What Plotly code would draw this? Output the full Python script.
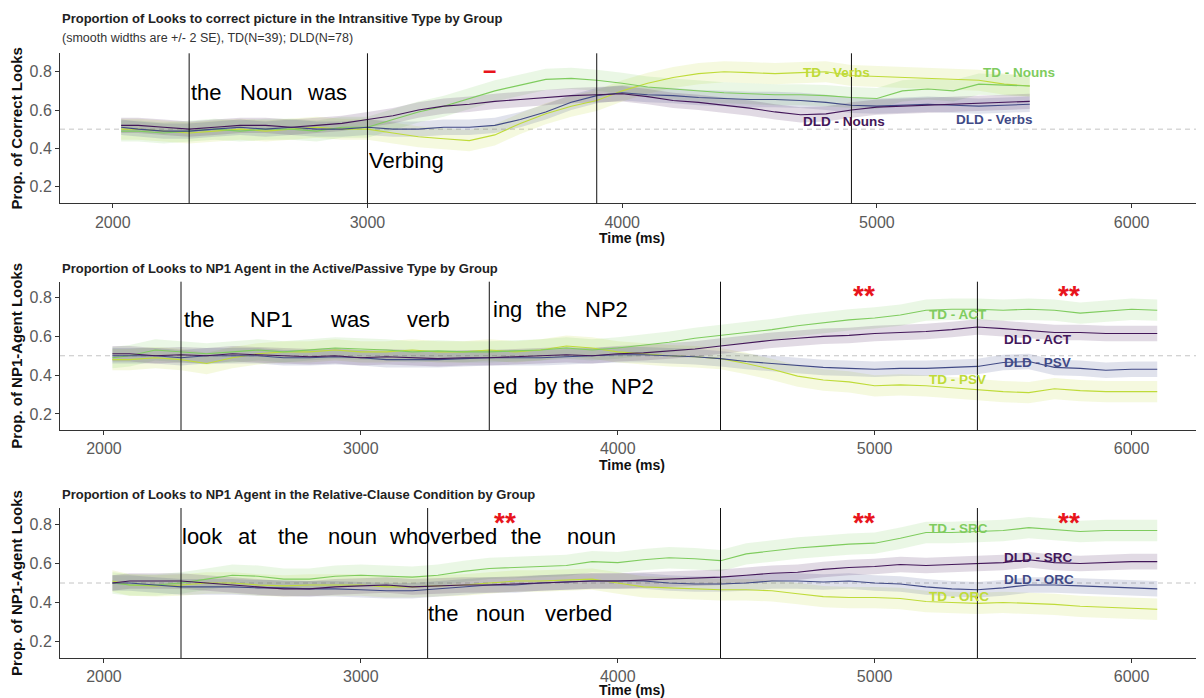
import plotly.graph_objects as go

# ---------------- data ----------------
TIME_TOP = [2033] + list(range(2100, 5601, 100))
TIME_LONG = [2033] + list(range(2100, 6101, 100))

# Panel 1: Intransitive
TD_NOUNS = [0.49, 0.49, 0.48, 0.49, 0.50, 0.49, 0.50, 0.50, 0.49, 0.51, 0.51, 0.55, 0.59, 0.62, 0.66,
            0.70, 0.73, 0.76, 0.765, 0.755, 0.74, 0.72, 0.71, 0.70, 0.69, 0.685, 0.68, 0.68, 0.675,
            0.665, 0.66, 0.70, 0.71, 0.70, 0.735, 0.73, 0.725]
TD_VERBS = [0.50, 0.50, 0.49, 0.48, 0.49, 0.50, 0.49, 0.50, 0.51, 0.50, 0.50, 0.48, 0.46, 0.45, 0.44,
            0.47, 0.53, 0.58, 0.62, 0.65, 0.70, 0.74, 0.77, 0.79, 0.80, 0.795, 0.79, 0.795, 0.80,
            0.78, 0.775, 0.77, 0.765, 0.76, 0.755, 0.735, 0.725]
DLD_NOUNS = [0.52, 0.52, 0.51, 0.50, 0.51, 0.52, 0.52, 0.51, 0.52, 0.53, 0.55, 0.57, 0.60, 0.62, 0.63,
             0.645, 0.655, 0.665, 0.675, 0.68, 0.685, 0.67, 0.65, 0.64, 0.625, 0.61, 0.59, 0.575, 0.58,
             0.60, 0.615, 0.62, 0.625, 0.63, 0.635, 0.64, 0.645]
DLD_VERBS = [0.51, 0.50, 0.49, 0.49, 0.50, 0.51, 0.50, 0.51, 0.50, 0.50, 0.51, 0.50, 0.50, 0.51, 0.51,
             0.52, 0.55, 0.59, 0.64, 0.675, 0.69, 0.68, 0.675, 0.665, 0.66, 0.655, 0.655, 0.65, 0.64,
             0.625, 0.62, 0.625, 0.63, 0.625, 0.62, 0.625, 0.63]

# Panel 2: Active / Passive
TD_ACT = [0.49, 0.50, 0.53, 0.52, 0.51, 0.52, 0.53, 0.52, 0.53, 0.54, 0.535, 0.53, 0.52, 0.525, 0.52,
          0.52, 0.525, 0.53, 0.54, 0.53, 0.54, 0.555, 0.57, 0.59, 0.605, 0.62, 0.635, 0.655, 0.67,
          0.685, 0.695, 0.71, 0.735, 0.74, 0.74, 0.735, 0.74, 0.735, 0.72, 0.73, 0.74, 0.735]
TD_PSV = [0.48, 0.48, 0.49, 0.48, 0.46, 0.49, 0.51, 0.52, 0.52, 0.53, 0.52, 0.52, 0.53, 0.52, 0.52,
          0.53, 0.52, 0.53, 0.55, 0.54, 0.52, 0.51, 0.50, 0.495, 0.485, 0.46, 0.43, 0.395, 0.375,
          0.365, 0.345, 0.35, 0.345, 0.335, 0.325, 0.315, 0.31, 0.33, 0.32, 0.315, 0.315, 0.315]
DLD_ACT = [0.51, 0.51, 0.50, 0.505, 0.50, 0.51, 0.505, 0.50, 0.495, 0.50, 0.49, 0.495, 0.49, 0.485, 0.49,
           0.49, 0.495, 0.50, 0.505, 0.50, 0.51, 0.515, 0.525, 0.535, 0.55, 0.565, 0.58, 0.59, 0.60,
           0.605, 0.615, 0.62, 0.625, 0.635, 0.648, 0.64, 0.63, 0.62, 0.62, 0.615, 0.615, 0.615]
DLD_PSV = [0.50, 0.50, 0.50, 0.49, 0.50, 0.50, 0.50, 0.49, 0.49, 0.495, 0.49, 0.48, 0.48, 0.48, 0.485,
           0.49, 0.49, 0.49, 0.495, 0.50, 0.505, 0.505, 0.50, 0.495, 0.485, 0.47, 0.46, 0.45, 0.44,
           0.435, 0.43, 0.435, 0.435, 0.44, 0.445, 0.465, 0.47, 0.44, 0.435, 0.425, 0.43, 0.43]

# Panel 3: Relative clauses
TD_SRC = [0.50, 0.49, 0.49, 0.50, 0.52, 0.54, 0.535, 0.52, 0.52, 0.535, 0.54, 0.535, 0.53, 0.54, 0.56,
          0.575, 0.58, 0.585, 0.59, 0.61, 0.605, 0.62, 0.63, 0.625, 0.615, 0.65, 0.665, 0.68, 0.69,
          0.70, 0.705, 0.73, 0.76, 0.76, 0.765, 0.77, 0.785, 0.775, 0.765, 0.77, 0.77, 0.77]
TD_ORC = [0.51, 0.49, 0.485, 0.49, 0.50, 0.50, 0.49, 0.485, 0.49, 0.49, 0.49, 0.48, 0.48, 0.485, 0.49,
          0.50, 0.51, 0.51, 0.515, 0.52, 0.50, 0.48, 0.475, 0.47, 0.465, 0.465, 0.46, 0.445, 0.43,
          0.425, 0.425, 0.42, 0.405, 0.40, 0.395, 0.40, 0.395, 0.39, 0.38, 0.375, 0.37, 0.365]
DLD_SRC = [0.50, 0.51, 0.51, 0.51, 0.50, 0.49, 0.48, 0.47, 0.47, 0.48, 0.485, 0.49, 0.48, 0.485, 0.49,
           0.49, 0.495, 0.50, 0.505, 0.51, 0.51, 0.515, 0.52, 0.525, 0.53, 0.54, 0.55, 0.555, 0.57,
           0.58, 0.585, 0.595, 0.59, 0.595, 0.60, 0.605, 0.62, 0.605, 0.60, 0.605, 0.61, 0.61]
DLD_ORC = [0.50, 0.50, 0.49, 0.48, 0.48, 0.48, 0.475, 0.475, 0.47, 0.47, 0.465, 0.46, 0.46, 0.47, 0.48,
           0.49, 0.49, 0.50, 0.505, 0.51, 0.51, 0.51, 0.50, 0.495, 0.495, 0.50, 0.51, 0.51, 0.505,
           0.51, 0.50, 0.495, 0.48, 0.47, 0.465, 0.475, 0.49, 0.49, 0.485, 0.48, 0.475, 0.47]

# +/- 2 SE half widths
TD_HALF = 0.055
DLD_HALF = 0.04

X_TICKS = [2000, 3000, 4000, 5000, 6000]
Y_TICKS = [0.2, 0.4, 0.6, 0.8]

VLINES_TOP = [2300, 3000, 3900, 4900]
VLINES_AP = [2300, 3500, 4400, 5400]
VLINES_RC = [2300, 3260, 4400, 5400]

TITLES = [
    "Proportion of Looks to correct picture in the Intransitive Type by Group",
    "Proportion of Looks to NP1 Agent in the Active/Passive Type by Group",
    "Proportion of Looks to NP1 Agent in the Relative-Clause Condition by Group",
]
SUBTITLE = "(smooth widths are +/- 2 SE), TD(N=39); DLD(N=78)"
Y_TITLES = ["Prop. of Correct Looks", "Prop. of NP1-Agent Looks", "Prop. of NP1-Agent Looks"]

# ---------------- style ----------------
C_DLD1 = "#43175a"   # dark purple
C_DLD2 = "#414a86"   # blue purple
C_TD1 = "#7fcc5e"    # green
C_TD2 = "#bfdb38"    # yellow green


def rgba(hex_color, a):
    h = hex_color.lstrip("#")
    r, g, b = int(h[0:2], 16), int(h[2:4], 16), int(h[4:6], 16)
    return f"rgba({r},{g},{b},{a})"


FONT = "Liberation Sans, Arial, sans-serif"

panels = [
    dict(time=TIME_TOP, vlines=VLINES_TOP, series=[
        ("TD - Verbs", TD_VERBS, C_TD2, TD_HALF),
        ("TD - Nouns", TD_NOUNS, C_TD1, TD_HALF),
        ("DLD - Verbs", DLD_VERBS, C_DLD2, DLD_HALF),
        ("DLD - Nouns", DLD_NOUNS, C_DLD1, DLD_HALF),
    ]),
    dict(time=TIME_LONG, vlines=VLINES_AP, series=[
        ("TD - PSV", TD_PSV, C_TD2, TD_HALF),
        ("TD - ACT", TD_ACT, C_TD1, TD_HALF),
        ("DLD - PSV", DLD_PSV, C_DLD2, DLD_HALF),
        ("DLD - ACT", DLD_ACT, C_DLD1, DLD_HALF),
    ]),
    dict(time=TIME_LONG, vlines=VLINES_RC, series=[
        ("TD - ORC", TD_ORC, C_TD2, TD_HALF),
        ("TD - SRC", TD_SRC, C_TD1, TD_HALF),
        ("DLD - ORC", DLD_ORC, C_DLD2, DLD_HALF),
        ("DLD - SRC", DLD_SRC, C_DLD1, DLD_HALF),
    ]),
]

# the page body has an 8px default margin: size the figure to fill the rest of the window
PAGE_W, PAGE_H, OFF = 1204, 698, 8
W, H = PAGE_W - OFF, PAGE_H - OFF


def px_x(px):
    return (px - OFF) / W


def px_y(py):
    return 1 - (py - OFF) / H


X_DOMAIN = [px_x(60), 1.0]
Y_DOMAINS = [[px_y(203.3), px_y(53.3)], [px_y(430), px_y(281.7)], [px_y(658), px_y(508)]]
X_RANGES = [[1793, 6284], [1829, 6282], [1829, 6282]]
Y_RANGES = [[0.113, 0.896], [0.117, 0.882], [0.114, 0.886]]

fig = go.Figure()

for i, p in enumerate(panels):
    xa = "x" if i == 0 else f"x{i + 1}"
    ya = "y" if i == 0 else f"y{i + 1}"
    t = p["time"]
    for name, vals, col, half in p["series"]:
        assert len(vals) == len(t), name
        upper = [v + half for v in vals]
        lower = [v - half for v in vals]
        fig.add_trace(go.Scatter(x=t + t[::-1], y=upper + lower[::-1], fill="toself",
                                 fillcolor=rgba(col, 0.16), line=dict(width=0),
                                 hoverinfo="skip", showlegend=False, xaxis=xa, yaxis=ya))
    for name, vals, col, half in p["series"]:
        fig.add_trace(go.Scatter(x=t, y=vals, mode="lines", line=dict(color=col, width=1.1),
                                 name=name, showlegend=False, xaxis=xa, yaxis=ya))

shapes = []
annotations = []
layout_axes = {}
for i, p in enumerate(panels):
    xs = "" if i == 0 else str(i + 1)
    xa, ya = "x" + xs, "y" + xs
    layout_axes["xaxis" + xs] = dict(
        domain=X_DOMAIN, range=X_RANGES[i], anchor=ya, tickvals=X_TICKS, automargin=False,
        showline=True, linecolor="#333333", linewidth=1, ticks="outside", ticklen=4,
        tickcolor="#333333", showgrid=False, zeroline=False,
        tickfont=dict(family=FONT, size=16, color="#5a5a5a"),
        title=dict(text="Time (ms)", standoff=3,
                   font=dict(family=FONT, size=14, color="#111111", weight="bold")),
    )
    layout_axes["yaxis" + xs] = dict(
        domain=Y_DOMAINS[i], range=Y_RANGES[i], anchor=xa, tickvals=Y_TICKS, automargin=False,
        ticktext=[f"{v:.1f}" for v in Y_TICKS],
        showline=True, linecolor="#333333", linewidth=1, ticks="outside", ticklen=4,
        tickcolor="#333333", showgrid=False, zeroline=False,
        tickfont=dict(family=FONT, size=16, color="#5a5a5a"),
        title=dict(text=Y_TITLES[i], standoff=4,
                   font=dict(family=FONT, size=15, color="#111111", weight="bold")),
    )
    # reference line at chance
    shapes.append(dict(type="line", xref=xa + " domain", yref=ya, x0=0, x1=1, y0=0.5, y1=0.5,
                       line=dict(color="#c4c4c4", width=1, dash="5px,4px"), layer="below"))
    for xv in p["vlines"]:
        shapes.append(dict(type="line", xref=xa, yref=ya + " domain", x0=xv, x1=xv, y0=0, y1=1,
                           line=dict(color="#111111", width=1), layer="above"))

# panel titles
title_y = [19, 268, 494]
for i, tt in enumerate(TITLES):
    annotations.append(dict(text=tt, xref="paper", yref="paper", x=px_x(60), y=px_y(title_y[i]),
                            xanchor="left", yanchor="middle", showarrow=False,
                            font=dict(family=FONT, size=13, color="#222222", weight="bold")))
annotations.append(dict(text=SUBTITLE, xref="paper", yref="paper", x=px_x(60), y=px_y(38),
                        xanchor="left", yanchor="middle", showarrow=False,
                        font=dict(family=FONT, size=12.5, color="#333333")))

# sentence words (panel, text, x, y)
WORDS = [
    (0, "the", 2300, 0.69), (0, "Noun", 2492, 0.69), (0, "was", 2755, 0.69),
    (0, "Verbing", 3000, 0.336),
    (1, "the", 2302, 0.685), (1, "NP1", 2561, 0.685), (1, "was", 2874, 0.685), (1, "verb", 3170, 0.685),
    (1, "ing", 3505, 0.737), (1, "the", 3675, 0.737), (1, "NP2", 3865, 0.737),
    (1, "ed", 3505, 0.341), (1, "by the", 3665, 0.341), (1, "NP2", 3966, 0.341),
    (2, "look", 2297, 0.74), (2, "at", 2515, 0.74), (2, "the", 2670, 0.74), (2, "noun", 2866, 0.74),
    (2, "who", 3100, 0.74), (2, "verbed", 3263, 0.74), (2, "the", 3575, 0.74), (2, "noun", 3793, 0.74),
    (2, "the", 3255, 0.345), (2, "noun", 3440, 0.345), (2, "verbed", 3710, 0.345),
]
for pi, txt, xv, yv in WORDS:
    xs = "" if pi == 0 else str(pi + 1)
    annotations.append(dict(text=txt, xref="x" + xs, yref="y" + xs, x=xv, y=yv,
                            xanchor="left", yanchor="middle", showarrow=False,
                            font=dict(family=FONT, size=22, color="#000000")))

# series labels (panel, text, x, y, color)
LABELS = [
    (0, "TD - Verbs", 4702, 0.795, C_TD2), (0, "TD - Nouns", 5407, 0.795, C_TD1),
    (0, "DLD - Nouns", 4702, 0.54, C_DLD1), (0, "DLD - Verbs", 5301, 0.548, C_DLD2),
    (1, "TD - ACT", 5205, 0.714, C_TD1), (1, "DLD - ACT", 5497, 0.582, C_DLD1),
    (1, "DLD - PSV", 5497, 0.465, C_DLD2), (1, "TD - PSV", 5205, 0.38, C_TD2),
    (2, "TD - SRC", 5205, 0.783, C_TD1), (2, "DLD - SRC", 5497, 0.632, C_DLD1),
    (2, "DLD - ORC", 5497, 0.517, C_DLD2), (2, "TD - ORC", 5205, 0.428, C_TD2),
]
for pi, txt, xv, yv, col in LABELS:
    xs = "" if pi == 0 else str(pi + 1)
    annotations.append(dict(text=txt, xref="x" + xs, yref="y" + xs, x=xv, y=yv,
                            xanchor="left", yanchor="middle", showarrow=False,
                            font=dict(family=FONT, size=13.5, color=col, weight="bold")))

# significance marks (panel, text, x, y)
SIG = [
    (0, "\u2013", 3480, 0.80),
    (1, "**", 4957, 0.848), (1, "**", 5757, 0.848),
    (2, "**", 3560, 0.846), (2, "**", 4957, 0.846), (2, "**", 5757, 0.846),
]
for pi, txt, xv, yv in SIG:
    xs = "" if pi == 0 else str(pi + 1)
    annotations.append(dict(text=txt, xref="x" + xs, yref="y" + xs, x=xv, y=yv,
                            xanchor="center", yanchor="middle", showarrow=False,
                            yshift=-7 if txt == "**" else 2,
                            font=dict(family=FONT, size=28 if txt == "**" else 24,
                                      color="#e8141c", weight="bold")))

fig.update_layout(
    width=W, height=H, margin=dict(l=0, r=0, t=0, b=0),
    paper_bgcolor="white", plot_bgcolor="white",
    showlegend=False, shapes=shapes, annotations=annotations,
    **layout_axes,
)

fig.write_html("out.html")
